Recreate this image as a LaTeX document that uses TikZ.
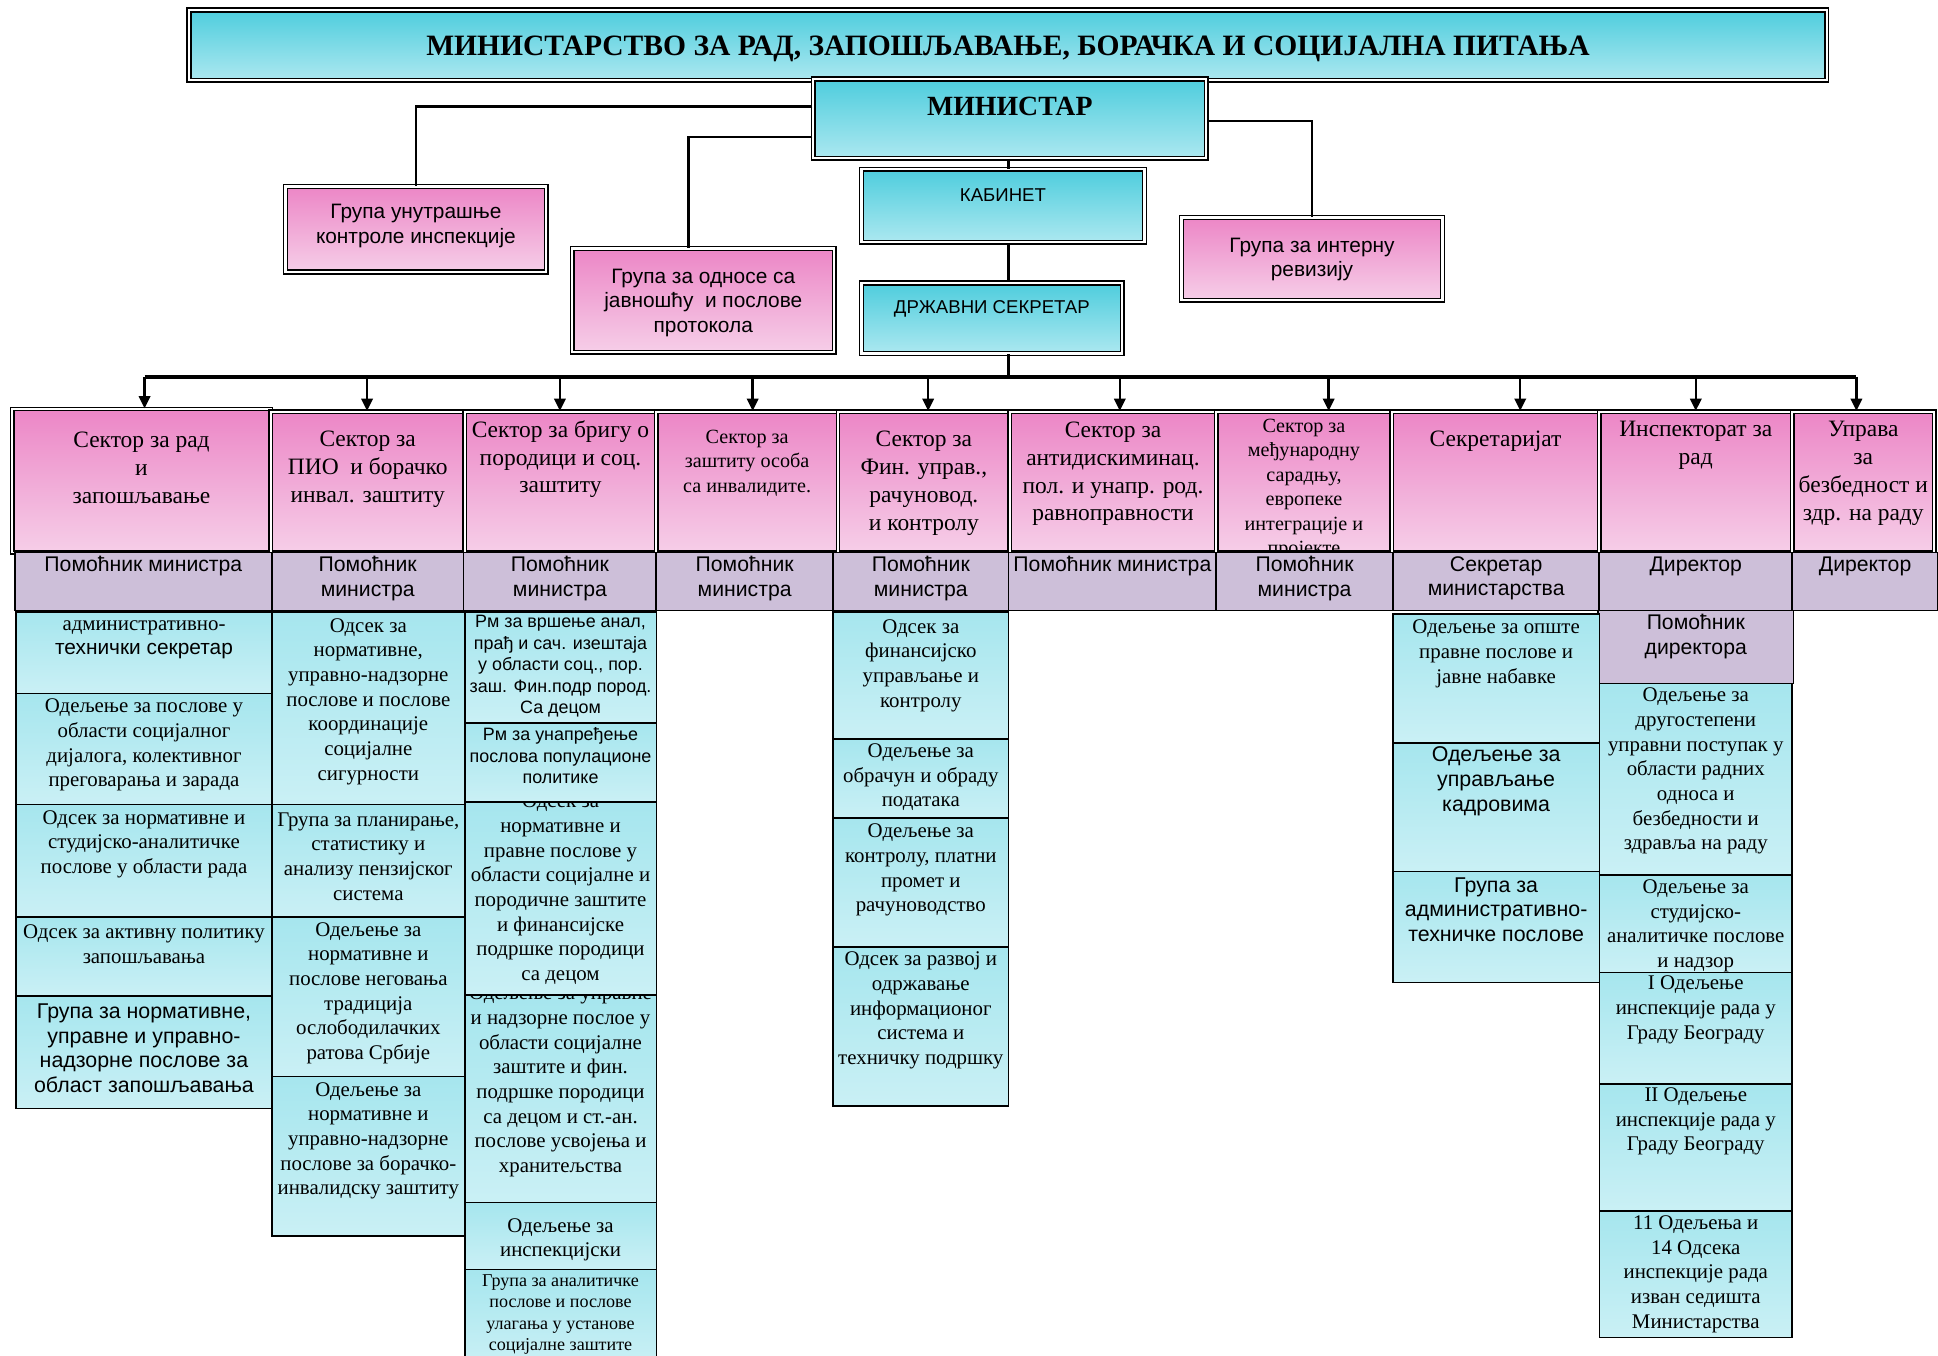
\documentclass[tikz,border=0pt]{standalone}
\usepackage{fontspec}
\setmainfont{Liberation Serif}
\setsansfont{Liberation Sans}
\usepackage{tikz}
\usetikzlibrary{arrows.meta}
\usetikzlibrary{fit, positioning}
\usepackage{xcolor}
\tikzstyle{every node} = [inner sep=0]

\definecolor{headtop}{RGB}{78,205,221}
\definecolor{headbot}{RGB}{172,232,240}
\definecolor{pinktop}{RGB}{236,134,198}
\definecolor{pinkbot}{RGB}{246,206,232}
\definecolor{celltop}{RGB}{166,230,238}
\definecolor{cellbot}{RGB}{202,240,245}
\definecolor{helper}{RGB}{205,191,217}

% box from (x1,y1) to (x2,y2), text clipped to the box
\newcommand{\orgcell}[9]{%
  \node[#2, fit={(#3,#4) (#5,#6)}] (#1) {};
  \begin{scope}
    \clip (#1.south west) rectangle (#1.north east);
    \node[#7] (#1-text) at ({(#3+#5)/2},#8) {#9};
  \end{scope}}

\begin{document}
\begin{tikzpicture}[x=0.025cm, y=-0.025cm,
    topbox/.style={draw, line width=0.9pt, double=white, double distance=1.3pt, top color=headtop, bottom color=headbot},
    grpbox/.style={draw, line width=0.9pt, double=white, double distance=1.3pt, top color=pinktop, bottom color=pinkbot},
    sectbox/.style={draw, line width=0.8pt, double=white, double distance=1.1pt, top color=pinktop, bottom color=pinkbot},
    helpbox/.style={draw, line width=1pt, fill=helper},
    unitbox/.style={draw, line width=0.9pt, top color=celltop, bottom color=cellbot},
    ttl/.style={align=center, font=\bfseries\fontsize{17}{20}\selectfont},
    ttlsm/.style={align=center, font=\bfseries\fontsize{16}{19}\selectfont},
    head/.style={align=center, font=\sffamily\fontsize{10.7}{13}\selectfont},
    grp/.style={align=center, font=\sffamily\fontsize{12}{14.2}\selectfont},
    sect/.style={align=center, font=\fontsize{13.5}{16}\selectfont},
    sectsm/.style={align=center, font=\fontsize{11.6}{14.1}\selectfont},
    help/.style={align=center, font=\sffamily\fontsize{12.2}{14.2}\selectfont},
    unit/.style={align=center, font=\fontsize{12}{14.2}\selectfont},
    unitsf/.style={align=center, font=\sffamily\fontsize{12.3}{14.2}\selectfont},
    unitsm/.style={align=center, font=\fontsize{10.4}{12.4}\selectfont},
    unitsfsm/.style={align=center, font=\sffamily\fontsize{10.3}{12.4}\selectfont},
    link/.style={line width=1.4pt},
    bus/.style={line width=2.2pt},
    arr/.style={line width=1.4pt, -{Triangle[width=6.5pt,length=7pt]}}]
  \useasboundingbox (0,0) rectangle (1568,1097);

  % Ministry and the top management
  \orgcell{title}{topbox}{153}{8}{1478}{65}{ttl}{39.5}{МИНИСТАРСТВО ЗА РАД, ЗАПОШЉАВАЊЕ, БОРАЧКА И СОЦИЈАЛНА ПИТАЊА}
  \orgcell{minister}{topbox}{658}{64}{976}{128}{ttlsm}{86}{МИНИСТАР}
  \orgcell{kabinet}{topbox}{697}{137}{926}{196}{head}{158}{КАБИНЕТ}
  \orgcell{dsec}{topbox}{697}{229}{908}{286}{head}{250}{ДРЖАВНИ СЕКРЕТАР}

  % Groups under the minister
  \orgcell{grpctl}{grpbox}{231}{151}{442}{220}{grp}{183}{Група унутрашње\\контроле инспекције}
  \orgcell{grppub}{grpbox}{463}{201}{675}{285}{grp}{245}{Група за односе са\\јавношћу~ и послове\\протокола}
  \orgcell{grpaud}{grpbox}{956}{176}{1167}{243}{grp}{210}{Група за интерну\\ревизију}

  % Links from the minister
  \coordinate (trunk) at (816,305);
  \draw[link] ([yshift=7pt]minister.west) -| (grpctl.north);
  \draw[link] ([yshift=-10.7pt]minister.west) -| ([xshift=-8.5pt]grppub.north);
  \draw[link] ([yshift=-1.4pt]minister.east) -| (grpaud.north);
  \draw[link] (minister.south -| trunk) -- (kabinet.north -| trunk);
  \draw[link] (kabinet.south -| trunk) -- (dsec.north -| trunk);
  \draw[link] (dsec.south -| trunk) -- (trunk);

  % Sectors
  \orgcell{s1}{sectbox}{10}{331}{219}{447}{sect}{378.5}{Сектор за рад\\и\\запошљавање}
  \orgcell{s2}{sectbox}{219}{333}{376}{447}{sect}{379.5}{Сектор за\\ПИО~ и борачко\\инвал. заштиту}
  \orgcell{s3}{sectbox}{376}{333}{531}{447}{sect}{371.5}{Сектор за бригу о\\породици и соц.\\заштиту}
  \orgcell{s4}{sectbox}{531}{333}{678}{447}{sectsm}{374.5}{Сектор за\\заштиту особа\\са инвалидите.}
  \orgcell{s5}{sectbox}{678}{333}{817}{447}{sect}{391}{Сектор за\\Фин. управ.,\\рачуновод.\\и контролу}
  \orgcell{s6}{sectbox}{817}{333}{984}{447}{sect}{383.5}{Сектор за\\антидискиминац.\\пол. и унапр. род.\\равноправности}
  \orgcell{s7}{sectbox}{984}{333}{1126}{447}{sectsm}{395.5}{Сектор за\\међународну\\сарадњу,\\европеке\\интеграције и\\пројекте}
  \orgcell{s8}{sectbox}{1126}{333}{1294}{447}{sect}{357}{Секретаријат}
  \orgcell{s9}{sectbox}{1294}{333}{1450}{447}{sect}{360.5}{Инспекторат за\\рад}
  \orgcell{s10}{sectbox}{1450}{333}{1565}{447}{sect}{383}{Управа\\за\\безбедност и\\здр. на раду}

  % Bus and arrows to the sectors
  \coordinate (busL) at (117,305);
  \coordinate (busR) at (1502,305);
  \coordinate (t2) at (297,305);
  \coordinate (t3) at (453,305);
  \coordinate (t4) at (609,305);
  \coordinate (t5) at (751,305);
  \coordinate (t6) at (906,305);
  \coordinate (t7) at (1075,305);
  \coordinate (t8) at (1230,305);
  \coordinate (t9) at (1372,305);
  \draw[bus] (busL) -- (busR);
  \draw[arr] (busL) -- (busL |- s1.north);
  \draw[arr] (t2) -- (t2 |- s2.north);
  \draw[arr] (t3) -- (t3 |- s3.north);
  \draw[arr] (t4) -- (t4 |- s4.north);
  \draw[arr] (t5) -- (t5 |- s5.north);
  \draw[arr] (t6) -- (t6 |- s6.north);
  \draw[arr] (t7) -- (t7 |- s7.north);
  \draw[arr] (t8) -- (t8 |- s8.north);
  \draw[arr] (t9) -- (t9 |- s9.north);
  \draw[arr] (busR) -- (busR |- s10.north);

  % Heads of the sectors
  \orgcell{h1}{helpbox}{12}{447}{220}{494}{help}{458}{Помоћник министра}
  \orgcell{h2}{helpbox}{220}{447}{375}{494}{help}{468}{Помоћник\\министра}
  \orgcell{h3}{helpbox}{375}{447}{531}{494}{help}{468}{Помоћник\\министра}
  \orgcell{h4}{helpbox}{531}{447}{674}{494}{help}{468}{Помоћник\\министра}
  \orgcell{h5}{helpbox}{674}{447}{816}{494}{help}{468}{Помоћник\\министра}
  \orgcell{h6}{helpbox}{816}{447}{984}{494}{help}{458}{Помоћник министра}
  \orgcell{h7}{helpbox}{984}{447}{1127}{494}{help}{468}{Помоћник\\министра}
  \orgcell{h8}{helpbox}{1127}{447}{1294}{494}{help}{468}{Секретар\\министарства}
  \orgcell{h9}{helpbox}{1294}{447}{1450}{494}{help}{458}{Директор}
  \orgcell{h10}{helpbox}{1450}{447}{1568}{494}{help}{458}{Директор}
  \orgcell{h9b}{helpbox}{1293}{494}{1451}{553}{help}{515}{Помоћник\\директора}

  % Units of the sector for labour
  \orgcell{c1a}{unitbox}{13}{495}{220}{561}{unit}{517.5}{административно-\\{\sffamily технички секретар}}
  \orgcell{c1b}{unitbox}{13}{561}{220}{651}{unit}{603}{Одељење за послове у\\области социјалног\\дијалога, колективног\\преговарања и зарада}
  \orgcell{c1c}{unitbox}{13}{651}{220}{742}{unit}{683}{Одсек за нормативне и\\студијско-аналитичке\\послове у области рада}
  \orgcell{c1d}{unitbox}{13}{742}{220}{806}{unit}{764}{Одсек за активну политику\\запошљавања}
  \orgcell{c1e}{unitbox}{13}{806}{220}{897}{unitsf}{848}{Група за нормативне,\\управне и управно-\\надзорне послове за\\област запошљавања}

  % Units of the sector for PIO
  \orgcell{c2a}{unitbox}{220}{495}{376}{651}{unit}{567.5}{Одсек за\\нормативне,\\управно-надзорне\\послове и послове\\координације\\социјалне\\сигурности}
  \orgcell{c2b}{unitbox}{220}{651}{376}{742}{unit}{693}{Група за планирање,\\статистику и\\анализу пензијског\\система}
  \orgcell{c2c}{unitbox}{220}{742}{376}{871}{unit}{803.5}{Одељење за\\нормативне и\\послове неговања\\традиција\\ослободилачких\\ратова Србије}
  \orgcell{c2d}{unitbox}{220}{871}{376}{1000}{unit}{923}{Одељење за\\нормативне и\\управно-надзорне\\послове за борачко-\\инвалидску заштиту}

  % Units of the sector for family care
  \orgcell{c3a}{unitbox}{376}{495}{531}{585}{unitsfsm}{539}{Рм за вршење анал,\\прађ и сач. изештаја\\у области соц., пор.\\заш. Фин.подр пород.\\Са децом}
  \orgcell{c3b}{unitbox}{376}{585}{531}{649}{unitsfsm}{611.5}{Рм за унапређење\\послова популационе\\политике}
  \orgcell{c3c}{unitbox}{376}{649}{531}{805}{unit}{719.5}{Одсек за\\нормативне и\\правне послове у\\области социјалне и\\породичне заштите\\и финансијске\\подршке породици\\са децом}
  \orgcell{c3d}{unitbox}{376}{805}{531}{973}{unit}{875}{Одељење за управне\\и надзорне послое у\\области социјалне\\заштите и фин.\\подршке породици\\са децом и ст.-ан.\\послове усвојења и\\хранитељства}
  \orgcell{c3e}{unitbox}{376}{973}{531}{1027}{unit}{1003}{Одељење за\\инспекцијски}
  \orgcell{c3f}{unitbox}{376}{1027}{531}{1105}{unitsm}{1063.5}{Група за аналитичке\\послове и послове\\улагања у установе\\социјалне заштите}

  % Units of the sector for finance
  \orgcell{c5a}{unitbox}{674}{495}{816}{598}{unit}{538.5}{Одсек за\\финансијско\\управљање и\\контролу}
  \orgcell{c5b}{unitbox}{674}{598}{816}{662}{unit}{629}{Одељење за\\обрачун и обраду\\података}
  \orgcell{c5c}{unitbox}{674}{662}{816}{766}{unit}{704}{Одељење за\\контролу, платни\\промет и\\рачуноводство}
  \orgcell{c5d}{unitbox}{674}{766}{816}{895}{unit}{817.5}{Одсек за развој и\\одржавање\\информационог\\система и\\техничку подршку}

  % Units of the secretariat
  \orgcell{c8a}{unitbox}{1127}{497}{1294}{601}{unit}{529}{Одељење за опште\\правне послове и\\јавне набавке}
  \orgcell{c8b}{unitbox}{1127}{601}{1294}{705}{unitsf}{632}{Одељење за\\управљање\\кадровима}
  \orgcell{c8c}{unitbox}{1127}{705}{1294}{795}{unitsf}{736}{Група за\\административно-\\техничке послове}

  % Units of the labour inspectorate
  \orgcell{c9a}{unitbox}{1294}{553}{1450}{708}{unit}{624}{Одељење за\\другостепени\\управни поступак у\\области радних\\односа и\\безбедности и\\здравља на раду}
  \orgcell{c9b}{unitbox}{1294}{708}{1450}{787}{unit}{749}{Одељење за\\студијско-\\аналитичке послове\\и надзор}
  \orgcell{c9c}{unitbox}{1294}{787}{1450}{877}{unit}{817}{I Одељење\\инспекције рада у\\Граду Београду}
  \orgcell{c9d}{unitbox}{1294}{877}{1450}{980}{unit}{907.5}{II Одељење\\инспекције рада у\\Граду Београду}
  \orgcell{c9e}{unitbox}{1294}{980}{1450}{1082}{unit}{1031}{11 Одељења и\\14 Одсека\\инспекције рада\\изван седишта\\Министарства}
\end{tikzpicture}
\end{document}
